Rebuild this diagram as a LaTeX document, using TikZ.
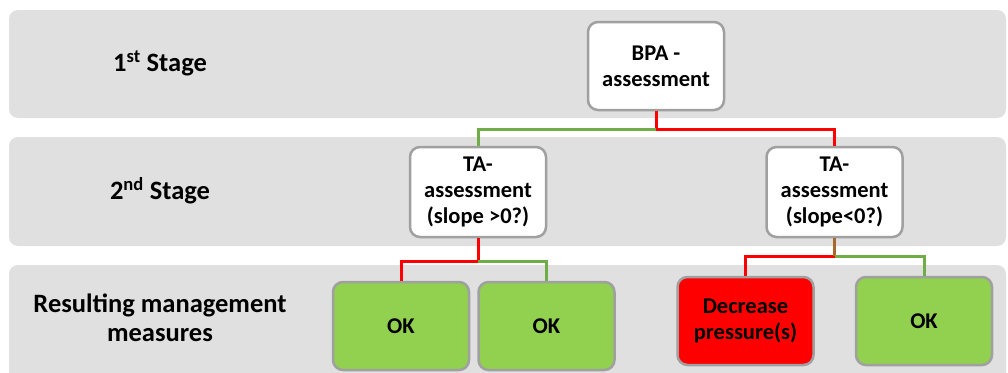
\documentclass[tikz,border=0pt]{standalone}
\usepackage{fontspec}
\setmainfont{Carlito}
\definecolor{bandgray}{HTML}{E0E0E0}
\definecolor{boxgray}{HTML}{A0A0A0}
\definecolor{okgreen}{HTML}{92D050}
\definecolor{linegreen}{HTML}{70AD47}
\begin{document}
\begin{tikzpicture}[
  x=1pt, y=-1pt,
  stageband/.style = {fill=bandgray, rounded corners=9pt},
  stagelbl/.style = {font=\fontsize{26.5}{29}\selectfont\bfseries, align=center},
  boxbase/.style = {draw=boxgray, line width=2.5pt, rounded corners=10pt,
    minimum width=136pt, align=center, inner sep=0pt,
    font=\fontsize{22.5}{26}\selectfont\bfseries},
  assessbox/.style = {boxbase, fill=white, minimum height=88pt},
  okbox/.style = {boxbase, fill=okgreen, minimum height=88pt},
  actbox/.style = {boxbase, fill=red, minimum height=88pt},
  yesline/.style = {line width=3pt, draw=linegreen},
  noline/.style = {line width=3pt, draw=red}
]
  \useasboundingbox (0,0) rectangle (1008,372);
  % stage bands
  \fill[stageband] (9,10) rectangle (1006,118);
  \fill[stageband] (9,137) rectangle (1006,246);
  \fill[stageband] (9,265) rectangle (1006,385);
  \node[stagelbl] (lbl1) at (160,63) {1\textsuperscript{st} Stage};
  \node[stagelbl] (lbl2) at (160,191) {2\textsuperscript{nd} Stage};
  \node[stagelbl] (lbl3) at (160,318) {Resulting management\\measures};
  % assessments
  \node[assessbox] (bpa) at (656,66) {BPA -\\assessment};
  \node[assessbox, minimum height=90pt] (taup) at (478,192) {TA-\\assessment\\(slope >0?)};
  \node[assessbox, minimum height=90pt] (tadown) at (834.5,192) {TA-\\assessment\\(slope<0?)};
  % measures
  \node[okbox] (ok1) at (401,326) {OK};
  \node[okbox] (ok2) at (546.5,326) {OK};
  \node[actbox] (decr) at (745.5,321) {Decrease\\pressure(s)};
  \node[okbox] (ok3) at (924,321) {OK};
  % branches
  \coordinate (j1) at (656,129);
  \coordinate (j2) at (478,261);
  \coordinate (j3) at (834.5,256);
  \draw[noline] (bpa.south) -- (j1) -| (tadown.north);
  \draw[yesline] (j1) -| (taup.north);
  \draw[noline] (taup.south) -- (j2) -| (ok1.north);
  \draw[yesline] (j2) -| (ok2.north);
  \draw[noline] (tadown.south) -- (j3) -| (decr.north);
  \draw[yesline, opacity=0.6] (tadown.south) -- (j3);
  \draw[yesline] (j3) -| (ok3.north);
\end{tikzpicture}
\end{document}
